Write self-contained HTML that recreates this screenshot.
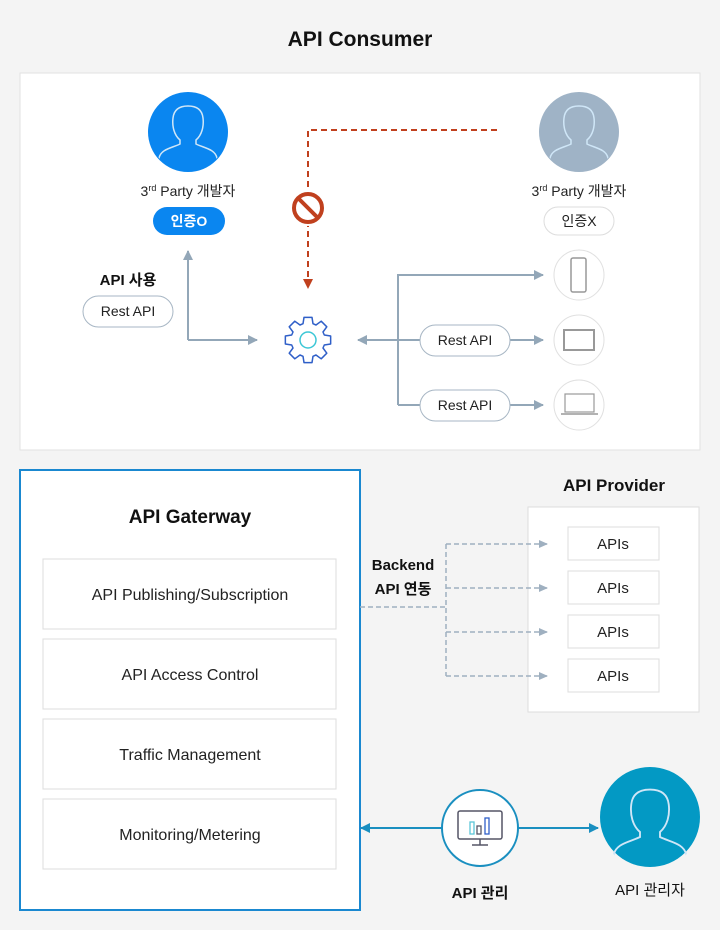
<!DOCTYPE html>
<html><head><meta charset="utf-8"><style>
body{margin:0;background:#f4f4f4;}
svg{display:block;font-family:"Liberation Sans","Noto Sans CJK KR",sans-serif;}
</style></head><body>
<svg width="720" height="930" viewBox="0 0 720 930" xmlns="http://www.w3.org/2000/svg">
<defs>
<marker id="ag" markerWidth="10" markerHeight="10" refX="9" refY="5" orient="auto" markerUnits="userSpaceOnUse"><path d="M0,0 L10,5 L0,10 z" fill="#93a7b8"/></marker>
<marker id="ar" markerWidth="10" markerHeight="10" refX="9" refY="5" orient="auto" markerUnits="userSpaceOnUse"><path d="M0,0 L10,5 L0,10 z" fill="#c0401e"/></marker>
<marker id="ab" markerWidth="10" markerHeight="10" refX="9" refY="5" orient="auto" markerUnits="userSpaceOnUse"><path d="M0,0 L10,5 L0,10 z" fill="#1a8fc0"/></marker>
<marker id="ad" markerWidth="10" markerHeight="10" refX="9" refY="5" orient="auto" markerUnits="userSpaceOnUse"><path d="M0,1 L9,5 L0,9 z" fill="#9fb0c0"/></marker>
<g id="person"><path d="M-29,34 L-29,26 C-27,17 -16,16 -8,12 L-8,8 C-14,3 -16,-6 -15,-14 C-14,-23 -8,-26 0,-26 C8,-26 14,-23 15,-14 C16,-6 14,3 8,8 L8,12 C16,16 27,17 29,26 L29,34" fill="none" stroke="#cfe6f7" stroke-width="1.5"/></g>
<clipPath id="c1"><circle cx="0" cy="0" r="39"/></clipPath>
</defs>
<text x="360" y="46" font-size="21" font-weight="bold" text-anchor="middle" fill="#111">API Consumer</text>
<rect x="20" y="73" width="680" height="377" fill="#fff" stroke="#e2e2e2"/>
<circle cx="188" cy="132" r="40" fill="#0a86f0"/>
<g transform="translate(188,132)" clip-path="url(#c1)"><use href="#person"/></g>
<circle cx="579" cy="132" r="40" fill="#9fb3c6"/>
<g transform="translate(579,132)" clip-path="url(#c1)"><use href="#person"/></g>
<text x="188" y="196" font-size="14" text-anchor="middle" fill="#222">3<tspan font-size="9" dy="-5">rd</tspan><tspan dy="5"> Party 개발자</tspan></text>
<text x="579" y="196" font-size="14" text-anchor="middle" fill="#222">3<tspan font-size="9" dy="-5">rd</tspan><tspan dy="5"> Party 개발자</tspan></text>
<rect x="153" y="207" width="72" height="28" rx="14" fill="#0a86f0"/>
<text x="189" y="226" font-size="14" text-anchor="middle" fill="#fff" font-weight="bold">인증O</text>
<rect x="544" y="207" width="70" height="28" rx="14" fill="#fff" stroke="#ddd"/>
<text x="579" y="226" font-size="14" text-anchor="middle" fill="#222">인증X</text>
<text x="128" y="285" font-size="15" font-weight="bold" text-anchor="middle" fill="#111">API 사용</text>
<rect x="83" y="296" width="90" height="31" rx="15.5" fill="#fff" stroke="#a7b6c4"/>
<text x="128" y="316" font-size="14" text-anchor="middle" fill="#222">Rest API</text>
<path d="M188,340 L188,251" stroke="#93a7b8" stroke-width="2" fill="none" marker-end="url(#ag)"/>
<path d="M188,340 L257,340" stroke="#93a7b8" stroke-width="2" fill="none" marker-end="url(#ag)"/>
<path d="M497,130 L308,130 L308,288" stroke="#c0401e" stroke-width="2" stroke-dasharray="6,4" fill="none" marker-end="url(#ar)"/>
<circle cx="308" cy="208" r="18" fill="#fff"/>
<circle cx="308" cy="208" r="14" fill="none" stroke="#c0401e" stroke-width="4"/>
<line x1="298" y1="198" x2="318" y2="218" stroke="#c0401e" stroke-width="4"/>
<g transform="translate(308,340)">
<polygon points="16.3,-5 22.65,-4 22.65,4 16.3,5 15,8 18.8,13.2 13.2,18.8 8,15 5,16.3 4,22.65 -4,22.65 -5,16.3 -8,15 -13.2,18.8 -18.8,13.2 -15,8 -16.3,5 -22.65,4 -22.65,-4 -16.3,-5 -15,-8 -18.8,-13.2 -13.2,-18.8 -8,-15 -5,-16.3 -4,-22.65 4,-22.65 5,-16.3 8,-15 13.2,-18.8 18.8,-13.2 15,-8" fill="none" stroke="#2f5fc8" stroke-width="1.5" stroke-linejoin="round"/>
<circle r="8" fill="none" stroke="#3cc7d6" stroke-width="1.5"/>
</g>
<path d="M420,340 L358,340" stroke="#93a7b8" stroke-width="2" fill="none" marker-end="url(#ag)"/>
<path d="M398,405 L398,275 L543,275" stroke="#93a7b8" stroke-width="2" fill="none" marker-end="url(#ag)"/>
<path d="M398,340 L420,340 M510,340 L543,340" stroke="#93a7b8" stroke-width="2" fill="none" marker-end="url(#ag)"/>
<path d="M398,405 L420,405 M510,405 L543,405" stroke="#93a7b8" stroke-width="2" fill="none" marker-end="url(#ag)"/>
<rect x="420" y="325" width="90" height="31" rx="15.5" fill="#fff" stroke="#a7b6c4"/>
<text x="465" y="345" font-size="14" text-anchor="middle" fill="#222">Rest API</text>
<rect x="420" y="390" width="90" height="31" rx="15.5" fill="#fff" stroke="#a7b6c4"/>
<text x="465" y="410" font-size="14" text-anchor="middle" fill="#222">Rest API</text>
<circle cx="579" cy="275" r="25" fill="#fff" stroke="#e0e0e0"/>
<rect x="571" y="258" width="15" height="34" rx="2" fill="none" stroke="#999" stroke-width="1.5"/>
<circle cx="579" cy="340" r="25" fill="#fff" stroke="#e0e0e0"/>
<rect x="564" y="330" width="30" height="20" fill="none" stroke="#999" stroke-width="2"/>
<circle cx="579" cy="405" r="25" fill="#fff" stroke="#e0e0e0"/>
<rect x="565" y="394" width="29" height="18" fill="none" stroke="#999" stroke-width="1.2"/>
<line x1="561" y1="414" x2="598" y2="414" stroke="#999" stroke-width="1.5"/>

<rect x="20" y="470" width="340" height="440" fill="#fff" stroke="#1a88d0" stroke-width="2"/>
<text x="190" y="523" font-size="19" font-weight="bold" text-anchor="middle" fill="#111">API Gaterway</text>
<g fill="#fff" stroke="#ddd">
<rect x="43" y="559" width="293" height="70"/>
<rect x="43" y="639" width="293" height="70"/>
<rect x="43" y="719" width="293" height="70"/>
<rect x="43" y="799" width="293" height="70"/>
</g>
<g font-size="16" text-anchor="middle" fill="#222">
<text x="190" y="600">API Publishing/Subscription</text>
<text x="190" y="680">API Access Control</text>
<text x="190" y="760">Traffic Management</text>
<text x="190" y="840">Monitoring/Metering</text>
</g>
<text x="614" y="491" font-size="17" font-weight="bold" text-anchor="middle" fill="#111">API Provider</text>
<rect x="528" y="507" width="171" height="205" fill="#fff" stroke="#ddd"/>
<g fill="#fff" stroke="#ddd">
<rect x="568" y="527" width="91" height="33"/>
<rect x="568" y="571" width="91" height="33"/>
<rect x="568" y="615" width="91" height="33"/>
<rect x="568" y="659" width="91" height="33"/>
</g>
<g font-size="15" text-anchor="middle" fill="#222">
<text x="613" y="549">APIs</text><text x="613" y="593">APIs</text><text x="613" y="637">APIs</text><text x="613" y="681">APIs</text>
</g>
<text x="403" y="570" font-size="15" font-weight="bold" text-anchor="middle" fill="#111">Backend</text>
<text x="403" y="594" font-size="15" font-weight="bold" text-anchor="middle" fill="#111">API 연동</text>
<g stroke="#9fb0c0" stroke-width="1.5" stroke-dasharray="5,3" fill="none">
<path d="M360,607 L446,607"/>
<path d="M446,544 L446,676"/>
<path d="M446,544 L548,544" marker-end="url(#ad)"/>
<path d="M446,588 L548,588" marker-end="url(#ad)"/>
<path d="M446,632 L548,632" marker-end="url(#ad)"/>
<path d="M446,676 L548,676" marker-end="url(#ad)"/>
</g>
<path d="M442,828 L361,828" stroke="#1a8fc0" stroke-width="2" marker-end="url(#ab)"/>
<path d="M518,828 L598,828" stroke="#1a8fc0" stroke-width="2" marker-end="url(#ab)"/>
<circle cx="480" cy="828" r="38" fill="#fff" stroke="#1a8fc0" stroke-width="2"/>
<rect x="458" y="811" width="44" height="28" rx="2" fill="none" stroke="#556" stroke-width="1.5"/>
<line x1="480" y1="839" x2="480" y2="845" stroke="#556" stroke-width="1.5"/>
<line x1="472" y1="845" x2="488" y2="845" stroke="#556" stroke-width="1.5"/>
<rect x="470" y="822" width="4" height="12" fill="none" stroke="#5cc6d8" stroke-width="1.3"/>
<rect x="477" y="826" width="4" height="8" fill="none" stroke="#556" stroke-width="1.3"/>
<rect x="485" y="818" width="4" height="16" fill="none" stroke="#2f5fc8" stroke-width="1.3"/>
<text x="480" y="898" font-size="15" font-weight="bold" text-anchor="middle" fill="#111">API 관리</text>
<circle cx="650" cy="817" r="50" fill="#0399c4"/>
<g transform="translate(650,822) scale(1.25)" clip-path="url(#c1)"><use href="#person"/></g>
<text x="650" y="895" font-size="15" text-anchor="middle" fill="#111">API 관리자</text>
</svg>
</body></html>
